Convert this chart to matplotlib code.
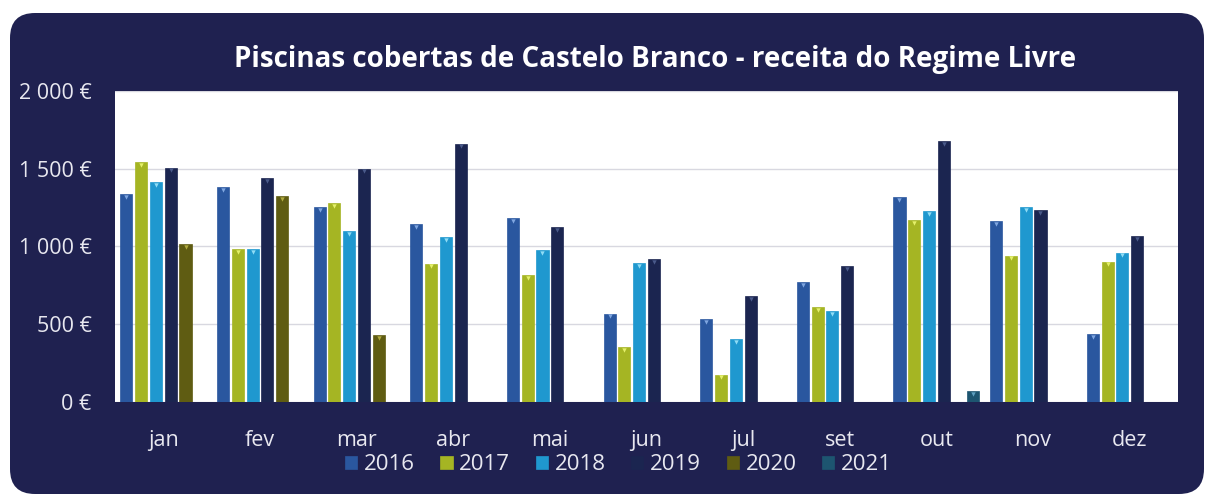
import numpy as np
import matplotlib.pyplot as plt
from matplotlib.patches import FancyBboxPatch

# dados
meses = ['jan', 'fev', 'mar', 'abr', 'mai', 'jun', 'jul', 'set', 'out', 'nov', 'dez']
anos = ['2016', '2017', '2018', '2019', '2020', '2021']
nan = np.nan
v2016 = [1335, 1383, 1252, 1142, 1181, 568, 533, 770, 1318, 1163, 434]
v2017 = [1544, 985, 1277, 890, 815, 353, 176, 609, 1168, 942, 903]
v2018 = [1415, 985, 1099, 1062, 976, 895, 406, 583, 1226, 1252, 961]
v2019 = [1507, 1439, 1501, 1662, 1125, 920, 682, 873, 1677, 1232, 1066]
v2020 = [1017, 1325, 428, nan, nan, nan, nan, nan, nan, nan, nan]
v2021 = [nan, nan, nan, nan, nan, nan, nan, nan, 69, nan, nan]
series = [v2016, v2017, v2018, v2019, v2020, v2021]

cores = ['#2a579f', '#a5b523', '#1f98cf', '#1b2550', '#5f5c12', '#1d5570']
topo = ['#7fa6e0', '#e4f06a', '#8fdcf5', '#4a5a8a', '#b0aa40', '#5fa0c0']
fundo = '#1f2150'

plt.rcParams['font.family'] = ['Open Sans', 'DejaVu Sans']

fig = plt.figure(figsize=(12.08, 4.98), dpi=100)
fig.patch.set_facecolor('white')
caixa = FancyBboxPatch((0.10, 0.04), 11.94, 4.81, boxstyle='round,pad=0,rounding_size=0.25',
                       transform=fig.dpi_scale_trans, facecolor=fundo, edgecolor='none', zorder=-5)
fig.patches.append(caixa)

ax = fig.add_axes([0.0952, 0.1928, 0.8800, 0.6245])
ax.set_facecolor('white')

x = np.arange(len(meses))
passo = 0.153
larg = 0.125
for i, (vals, ano) in enumerate(zip(series, anos)):
    pos = x + (i - 2.5) * passo
    ax.bar(pos, vals, larg, color=cores[i], edgecolor=cores[i], linewidth=0.5,
           label=ano, zorder=3)
    ax.scatter(pos, np.array(vals) - 18, marker='v', s=10, color=topo[i],
               linewidths=0, zorder=4)

ax.set_ylim(0, 2000)
ax.set_xlim(-0.5, len(meses) - 0.5)
ax.set_yticks([0, 500, 1000, 1500, 2000])
ax.set_yticklabels(['0 €', '500 €', '1 000 €', '1 500 €', '2 000 €'])
ax.set_xticks(x)
ax.set_xticklabels(meses)
ax.tick_params(axis='both', colors='#e8e8f0', labelsize=15.5, length=0)
ax.tick_params(axis='y', pad=17)
ax.tick_params(axis='x', pad=20)
ax.grid(axis='y', color='#d8d8e0', linewidth=1, zorder=0)
for s in ax.spines.values():
    s.set_visible(False)

fig.text(0.542, 0.88, 'Piscinas cobertas de Castelo Branco - receita do Regime Livre',
         ha='center', va='center', color='white', fontsize=20, fontweight='bold')

handles, labels = ax.get_legend_handles_labels()
leg = fig.legend(handles, labels, loc='center', bbox_to_anchor=(0.512, 0.067), ncol=6,
                 frameon=False, fontsize=16, handlelength=0.55, handleheight=0.55,
                 handletextpad=0.3, columnspacing=1.15)
for t in leg.get_texts():
    t.set_color('#e8e8f0')

fig.savefig('out.png', dpi=100)
